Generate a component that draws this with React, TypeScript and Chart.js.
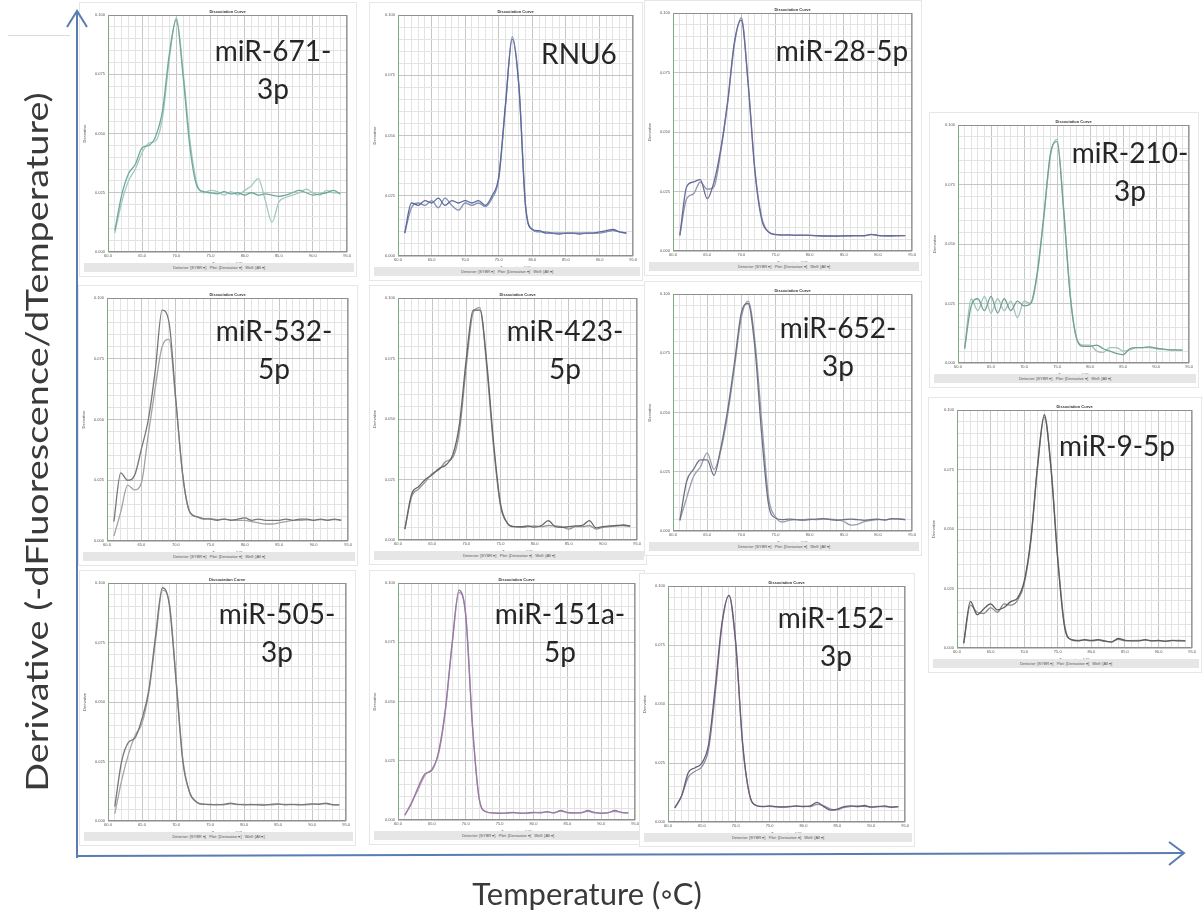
import React, { useEffect, useRef } from "react";
import { Chart, registerables } from "chart.js";
Chart.register(...registerables);

// Temperature (°C) sampling points shared by all melt curves
const TEMPS = [61, 62, 63, 64, 65, 66, 67, 68, 69, 70, 71, 72, 73, 74, 75, 76, 77, 78, 79, 80, 81, 82, 83, 84, 85, 86, 87, 88, 89, 90, 91, 92, 93, 94];
const X_TICK_LABELS = ["60.0", "65.0", "70.0", "75.0", "80.0", "85.0", "90.0", "95.0"];
const Y_TICK_LABELS = ["0.000", "0.025", "0.050", "0.075", "0.100"];

// Derivative values (relative units, 0–100 of plot height), two replicates per assay
const MIR671_R1 = [9, 24, 33, 37, 44, 45, 49, 60, 84, 98, 74, 44, 28, 25.5, 25, 24.5, 25.5, 24.5, 25, 24, 25, 24, 24.5, 24, 23.5, 24, 25, 26, 25, 24, 24.5, 25, 26, 24.5];
const MIR671_R2 = [8, 21, 30, 35, 42, 46, 47, 57, 82, 99, 76, 47, 29, 25, 26, 25.5, 24, 25.5, 24, 26, 28, 31, 22, 12.5, 21, 23, 24, 25, 26.5, 25, 24, 26, 25, 25];
const RNU6_R1 = [9.5, 22, 21, 23, 22, 24, 21, 23, 22, 23, 22, 23, 21, 25, 33, 63, 90, 70, 20, 11, 10.5, 9.5, 9.5, 9.5, 9.5, 9.5, 9.5, 9.5, 9.5, 10, 10.5, 11, 10, 9.5];
const RNU6_R2 = [9.5, 20, 22, 21, 23, 20, 24, 21, 19, 22, 21, 22, 20.5, 24, 32, 62, 91, 71, 21, 11, 10, 10, 9.5, 9, 9.5, 9.5, 9, 9.5, 9.5, 9.5, 10, 10.5, 10, 9.5];
const MIR28_R1 = [6.6, 27, 29, 30, 22, 29, 43, 63, 88, 97, 70, 33, 13, 8, 6.9, 6.7, 6.8, 6.6, 6.7, 6.6, 6.5, 6.3, 6.3, 6.3, 6.4, 6.4, 6.5, 6.4, 7, 6.5, 6.4, 6.4, 6.5, 6.5];
const MIR28_R2 = [6.6, 22, 24, 29, 26, 27, 42, 62, 87, 98, 71, 34, 14, 8, 7, 6.8, 6.7, 6.7, 6.6, 6.6, 6.4, 6.4, 6.3, 6.2, 6.3, 6.4, 6.4, 6.5, 6.9, 6.6, 6.4, 6.3, 6.4, 6.5];
const MIR210_R1 = [6, 24, 27, 22, 28, 21, 27, 22, 26, 24, 25, 38, 62, 88, 93, 64, 28, 10, 7, 7, 7.5, 6, 5, 4, 3.5, 6, 6.5, 6.5, 6.8, 6.2, 5.8, 5.5, 5.5, 5.4];
const MIR210_R2 = [6, 27, 22, 28, 21, 27, 22, 26, 19, 26, 25, 37, 61, 87, 94, 65, 29, 10, 7.5, 7.5, 5, 4.5, 6.5, 6.5, 5, 5.5, 6.5, 6.5, 6.5, 6.2, 5.8, 5.5, 5.4, 5.4];
const MIR9_R1 = [2, 19.6, 14, 16.5, 18.5, 16, 17, 19.5, 21, 28, 46, 77, 98, 75, 37, 9, 3.5, 3, 3.5, 3.2, 3.5, 3, 2.5, 4, 3.2, 3, 3, 3.5, 3, 3.2, 2.8, 3.2, 3, 3];
const MIR9_R2 = [2, 18, 15, 14.5, 17, 15, 18.5, 18, 20, 27, 45, 76, 97, 76, 38, 10, 3.5, 3.2, 3.3, 3, 3.3, 2.8, 2.7, 3.6, 3, 3.1, 3.2, 3.3, 3.1, 3, 2.9, 3.1, 3.2, 3];
const MIR532_R1 = [8, 28, 25, 27, 38, 50, 70, 95, 90, 58, 27, 12, 10, 9.2, 9, 8.5, 9, 8.5, 9, 9.5, 8.5, 9, 8.5, 8.5, 8.5, 9, 8.5, 9, 9, 8.5, 9, 8.5, 9, 8.5];
const MIR532_R2 = [2, 12, 23, 21, 24, 44, 63, 80, 83, 57, 27, 12, 10, 9, 9.2, 8.8, 9, 8.7, 8.5, 8.5, 8, 7.5, 7, 7, 7.5, 8, 8.5, 8.5, 8.7, 8.5, 8.8, 8.6, 8.8, 8.6];
const MIR423_R1 = [4.5, 19, 22, 25, 27, 29.5, 31, 35, 48, 75, 95, 95, 73, 40, 15, 7, 5.5, 5.5, 5.8, 5.3, 6, 8, 5.5, 5.2, 5.5, 5.8, 6, 8, 5, 5.5, 5.8, 6, 6.2, 5.8];
const MIR423_R2 = [4.5, 18, 21, 24, 27.5, 29, 32.5, 34, 45, 72, 94, 96, 71, 38, 14, 7, 5.5, 5.2, 5.5, 5.8, 5.5, 6, 5.8, 5.5, 4.5, 5.5, 5.5, 6, 4.5, 5.2, 5.5, 5.8, 6, 5.5];
const MIR652_R1 = [4.5, 21, 26, 30, 30, 23.5, 35, 51, 71, 92, 96, 77, 40, 11, 5.5, 4.8, 5, 4.8, 4.6, 4.8, 5, 5.2, 4.8, 4.5, 4.8, 5, 4.8, 4.5, 4.8, 5, 4.6, 5.2, 5, 4.8];
const MIR652_R2 = [4.5, 14, 23, 27, 33, 26, 34, 49, 69, 90, 97, 80, 46, 14, 6, 3.8, 4.5, 4.8, 4.8, 5, 4.8, 5, 5, 4.8, 4, 2.5, 2.8, 4, 4.5, 4.8, 4.8, 5, 5.2, 4.8];
const MIR505_R1 = [6, 25, 33, 35, 43, 55, 78, 98, 91, 59, 25, 12, 8, 7, 7, 6.8, 7, 7.5, 7, 6.8, 7, 6.8, 6.7, 7, 7.2, 6.8, 7, 6.8, 7, 7.2, 7, 7.5, 6.9, 6.8];
const MIR505_R2 = [3, 17, 28, 36, 41, 54, 76, 97, 92, 60, 26, 12, 8, 7.2, 6.8, 7, 6.8, 7.2, 6.9, 7, 6.8, 7, 6.9, 6.8, 7, 7, 6.9, 7, 6.8, 7, 7.2, 7.2, 6.8, 6.8];
const MIR151A_R1 = [2, 7, 14, 19.5, 21, 29, 47, 75, 97, 86, 39, 8.5, 3.5, 3, 2.8, 3, 3.2, 2.8, 3, 3.2, 3, 3.5, 3, 4, 3.2, 3, 3, 4, 3.2, 2.8, 3, 4, 3.2, 3];
const MIR151A_R2 = [2, 7.5, 13, 19, 21.5, 28, 46, 74, 96, 87, 40, 9, 3.5, 3, 3, 2.8, 3, 3, 2.8, 3, 3.2, 3.3, 3.1, 3.8, 3, 2.9, 3.1, 3.6, 3, 3, 3.1, 3.7, 3.1, 3];
const MIR152_R1 = [6, 11, 21, 23, 25, 33, 58, 85, 96, 76, 34, 12, 7, 6.5, 6.8, 6.5, 6.3, 6.5, 6.8, 6.5, 6.8, 8.3, 6.5, 5, 5.5, 6.5, 6.8, 6.5, 7, 6.3, 6.5, 6.8, 6.2, 6.5];
const MIR152_R2 = [6, 11, 19, 21.5, 23.5, 31, 55, 84, 96, 75, 33, 12, 7, 6.6, 6.6, 6.4, 6.5, 6.6, 6.6, 6.7, 6.5, 7.5, 6.8, 5.5, 5.2, 6.2, 6.6, 6.8, 6.6, 6.4, 6.6, 6.5, 6.4, 6.5];

const PANEL_NAMES = [
  ["miR-671-", "3p"], ["RNU6"], ["miR-28-5p"], ["miR-210-", "3p"], ["miR-9-5p"],
  ["miR-532-", "5p"], ["miR-423-", "5p"], ["miR-652-", "3p"],
  ["miR-505-", "3p"], ["miR-151a-", "5p"], ["miR-152-", "3p"],
];
const PANEL_SERIES = [
  [MIR671_R1, MIR671_R2], [RNU6_R1, RNU6_R2], [MIR28_R1, MIR28_R2], [MIR210_R1, MIR210_R2], [MIR9_R1, MIR9_R2],
  [MIR532_R1, MIR532_R2], [MIR423_R1, MIR423_R2], [MIR652_R1, MIR652_R2],
  [MIR505_R1, MIR505_R2], [MIR151A_R1, MIR151A_R2], [MIR152_R1, MIR152_R2],
];

// Layout / style (not data)
const PANEL_COLORS = [
  ["#6fa89c", "#a2c9c1"], ["#5b6a9a", "#8390b4"], ["#686c96", "#9093b2"], ["#72a097", "#a0c2ba"], ["#5c5c5c", "#8c8c8c"],
  ["#777777", "#a2a2a2"], ["#666666", "#969696"], ["#6c7184", "#9a9dac"],
  ["#777777", "#a6a6a6"], ["#977aa3", "#b79bb8"], ["#6b5d78", "#948aa0"],
];
const PANEL_FRAMES = [
  [108, 15, 240, 237], [398, 15, 236, 241], [673, 13, 240, 238], [958, 125, 232, 238], [957, 410, 236, 238],
  [107, 298, 242, 243], [398, 298, 240, 242], [673, 294, 240, 237],
  [108, 583, 239, 238], [398, 583, 238, 237], [668, 586, 238, 236],
];
const LABEL_CENTERS = [
  [273, 50], [579, 53], [842, 50], [1130, 152], [1117, 445],
  [274, 330], [565, 330], [838, 327],
  [277, 613], [560, 613], [836, 617],
];

const PAD_L = 26, PAD_T = 9, PAD_R = 4, PAD_B = 14;
const FONT = "Lato, 'Open Sans', sans-serif";

const framePlugin = {
  id: "frameBox",
  afterDraw(chart: any) {
    const { ctx, chartArea } = chart;
    const { left, top, right, bottom } = chartArea;
    ctx.save();
    ctx.strokeStyle = "#8f8f8f";
    ctx.lineWidth = 1;
    ctx.strokeRect(left + 0.5, top + 0.5, right - left - 1, bottom - top - 1);
    ctx.strokeStyle = "#7fa97f";
    ctx.beginPath();
    ctx.moveTo(left + 0.5, top);
    ctx.lineTo(left + 0.5, bottom);
    ctx.stroke();
    ctx.fillStyle = "#333";
    ctx.font = "bold 4px 'Liberation Sans'";
    ctx.textAlign = "center";
    ctx.fillText("Dissociation Curve", (left + right) / 2, top - 2);
    ctx.restore();
  },
};

function Panel({ idx }: { idx: number }) {
  const ref = useRef<HTMLCanvasElement>(null);
  const [fx, fy, fw, fh] = PANEL_FRAMES[idx];
  const cw = fw + PAD_L + PAD_R;
  const ch = fh + PAD_T + PAD_B;
  useEffect(() => {
    const series = PANEL_SERIES[idx];
    const colors = PANEL_COLORS[idx];
    const chart = new Chart(ref.current as HTMLCanvasElement, {
      type: "line",
      data: {
        datasets: series.map((vals, k) => ({
          data: TEMPS.map((t, i) => ({ x: t, y: vals[i] })),
          borderColor: colors[k],
          borderWidth: 1.3,
          pointRadius: 0,
          cubicInterpolationMode: "monotone" as const,
          fill: false,
        })),
      },
      options: {
        responsive: false,
        animation: false,
        devicePixelRatio: 1,
        layout: { padding: { top: PAD_T, right: PAD_R, left: 0, bottom: 0 } },
        plugins: { legend: { display: false }, tooltip: { enabled: false }, title: { display: false } },
        scales: {
          x: {
            type: "linear",
            min: 60,
            max: 95,
            ticks: {
              stepSize: 1,
              autoSkip: false,
              maxRotation: 0,
              padding: 1,
              color: "#555",
              font: { size: 4, family: "'Liberation Sans'" },
              callback: (v: any) => (v % 5 === 0 ? X_TICK_LABELS[(v - 60) / 5] : ""),
            },
            grid: {
              drawTicks: false,
              color: (c: any) => (c.tick && c.tick.value % 5 === 0 ? "#c6c6c6" : "#e3e3e3"),
            },
            border: { display: false },
            title: { display: true, text: "Temperature (°C)", padding: 0, color: "#555", font: { size: 4, family: "'Liberation Sans'" } },
            afterFit: (s: any) => { s.height = PAD_B; },
          },
          y: {
            min: 0,
            max: 100,
            ticks: {
              stepSize: 5,
              autoSkip: false,
              padding: 3,
              color: "#555",
              font: { size: 4, family: "'Liberation Sans'" },
              callback: (v: any) => (v % 25 === 0 ? Y_TICK_LABELS[v / 25] : ""),
            },
            grid: {
              drawTicks: false,
              color: (c: any) => (c.tick && c.tick.value % 25 === 0 ? "#c6c6c6" : "#e3e3e3"),
            },
            border: { display: false },
            title: { display: true, text: "Derivative", padding: 0, color: "#555", font: { size: 4, family: "'Liberation Sans'" } },
            afterFit: (s: any) => { s.width = PAD_L; },
          },
        },
      },
      plugins: [framePlugin],
    } as any);
    return () => chart.destroy();
  }, [idx]);

  const [lx, ly] = LABEL_CENTERS[idx];
  const lines = PANEL_NAMES[idx];
  return (
    <>
      <div style={{ position: "absolute", left: fx - 29, top: fy - 13, width: fw + 38, height: fh + 38, border: "1px solid #e6e6e6", boxSizing: "border-box", background: "#fff" }} />
      <canvas ref={ref} width={cw} height={ch} style={{ position: "absolute", left: fx - PAD_L, top: fy - PAD_T, width: cw, height: ch }} />
      <div style={{ position: "absolute", left: fx - 24, top: fy + fh + 11, width: fw + 30, height: 9, background: "#e6e6e6", color: "#555", fontFamily: "'Liberation Sans'", fontSize: 4, lineHeight: "9px", textAlign: "center", whiteSpace: "nowrap", overflow: "hidden" }}>
        Detector: [SYBR ▾]&nbsp;&nbsp; Plot: [Derivative ▾]&nbsp;&nbsp; Well: [All ▾]
      </div>
      <div style={{ position: "absolute", left: lx - 110, top: ly - 19, width: 220, textAlign: "center", fontFamily: FONT, fontSize: 28, lineHeight: "38px", color: "#262626", whiteSpace: "nowrap" }}>
        {lines.map((t, i) => (<div key={i}>{t}</div>))}
      </div>
    </>
  );
}

export default function App() {
  return (
    <div style={{ position: "absolute", left: 0, top: 0, width: 1202, height: 916, background: "#fff", overflow: "hidden" }}>
      <div style={{ position: "absolute", left: 8, top: 35, width: 62, height: 1, background: "#dcdcdc" }} />
      {PANEL_NAMES.map((_, i) => (<Panel key={i} idx={i} />))}
      <svg width={1202} height={916} style={{ position: "absolute", left: 0, top: 0, pointerEvents: "none" }}>
        <line x1={77} y1={858} x2={77} y2={11} stroke="#5a7db0" strokeWidth={2} />
        <polyline points="67,27 77,11 87,27" fill="none" stroke="#5a7db0" strokeWidth={2} />
        <line x1={77} y1={856} x2={1184} y2={853} stroke="#5a7db0" strokeWidth={2} />
        <polyline points="1169,842 1184,853 1169,865" fill="none" stroke="#5a7db0" strokeWidth={2} />
      </svg>
      <div style={{ position: "absolute", left: 587, top: 893, transform: "translate(-50%, -50%)", fontFamily: FONT, fontSize: 31, color: "#3a3a3a", whiteSpace: "nowrap" }}>
        Temperature (◦C)
      </div>
      <div style={{ position: "absolute", left: 36, top: 442, transform: "translate(-50%, -50%) rotate(-90deg) scaleX(1.22)", fontFamily: FONT, fontSize: 31, color: "#3a3a3a", whiteSpace: "nowrap" }}>
        Derivative (-dFluorescence/dTemperature)
      </div>
    </div>
  );
}
